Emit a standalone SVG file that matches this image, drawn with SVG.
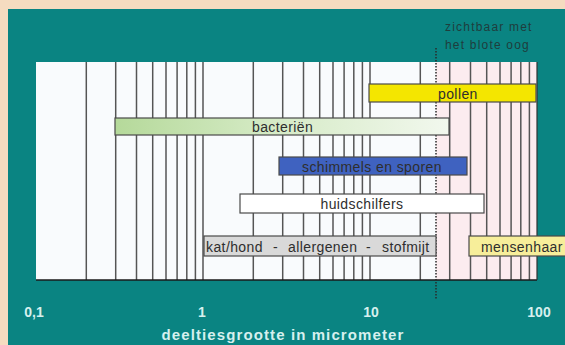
<svg xmlns="http://www.w3.org/2000/svg" width="565" height="345" viewBox="0 0 565 345">
<defs>
<linearGradient id="gBac" x1="0" y1="0" x2="1" y2="0">
<stop offset="0" stop-color="#b5d99a"/>
<stop offset="0.45" stop-color="#d4eac4"/>
<stop offset="1" stop-color="#f2f8ee"/>
</linearGradient>
<style>
.grid line{stroke:#555;stroke-width:1.5}
.bar{stroke:#4a4a4a;stroke-width:1.2}
.bt{font-family:"Liberation Sans",Arial,sans-serif;font-size:14px;letter-spacing:0.4px;fill:#2e2e2e}
.ax{font-family:"Liberation Sans",Arial,sans-serif;font-size:14px;font-weight:bold;fill:#d6f0ee}
.note{font-family:"Liberation Sans",Arial,sans-serif;font-size:12px;letter-spacing:1.2px;fill:#1f3d3d}
</style>
</defs>
<rect width="565" height="345" fill="#f5dcc0"/>
<rect x="8" y="9" width="557" height="336" fill="#0a8482"/>
<g id="chart">
<rect x="36" y="62" width="501" height="218" fill="#f9fbfd"/>
<rect x="436" y="62" width="101" height="218" fill="#fcecef"/>
<g class="grid">
<line x1="86.3" y1="62" x2="86.3" y2="280"/>
<line x1="115.7" y1="62" x2="115.7" y2="280"/>
<line x1="136.5" y1="62" x2="136.5" y2="280"/>
<line x1="152.7" y1="62" x2="152.7" y2="280"/>
<line x1="166" y1="62" x2="166" y2="280"/>
<line x1="177.1" y1="62" x2="177.1" y2="280"/>
<line x1="186.8" y1="62" x2="186.8" y2="280"/>
<line x1="195.4" y1="62" x2="195.4" y2="280"/>
<line x1="203" y1="62" x2="203" y2="280"/>
<line x1="253.3" y1="62" x2="253.3" y2="280"/>
<line x1="282.7" y1="62" x2="282.7" y2="280"/>
<line x1="303.5" y1="62" x2="303.5" y2="280"/>
<line x1="319.7" y1="62" x2="319.7" y2="280"/>
<line x1="333" y1="62" x2="333" y2="280"/>
<line x1="344.1" y1="62" x2="344.1" y2="280"/>
<line x1="353.8" y1="62" x2="353.8" y2="280"/>
<line x1="362.4" y1="62" x2="362.4" y2="280"/>
<line x1="370" y1="62" x2="370" y2="280"/>
<line x1="420.3" y1="62" x2="420.3" y2="280"/>
<line x1="449.7" y1="62" x2="449.7" y2="280"/>
<line x1="470.5" y1="62" x2="470.5" y2="280"/>
<line x1="486.7" y1="62" x2="486.7" y2="280"/>
<line x1="500" y1="62" x2="500" y2="280"/>
<line x1="511.1" y1="62" x2="511.1" y2="280"/>
<line x1="520.8" y1="62" x2="520.8" y2="280"/>
<line x1="529.4" y1="62" x2="529.4" y2="280"/>
</g>
<line x1="36" y1="280" x2="537" y2="280" stroke="#1a1a1a" stroke-width="1.6"/>
<line x1="537" y1="62" x2="537" y2="280" stroke="#333" stroke-width="1.2"/>
</g>
<g id="connectors">
<line x1="436" y1="48" x2="436" y2="300" stroke="#2a2a2a" stroke-width="1.5" stroke-dasharray="1.5,1.5"/>
</g>
<g id="pollen">
<rect class="bar" x="369" y="84" width="167" height="18" fill="#f4e600"/>
<text class="bt" x="438" y="99">pollen</text>
</g>
<g id="bacterien">
<rect class="bar" x="115" y="118" width="334" height="17" fill="url(#gBac)"/>
<text class="bt" x="252" y="132">bacteriën</text>
</g>
<g id="schimmels">
<rect class="bar" x="279" y="157" width="188" height="18" fill="#3f62c0"/>
<text class="bt" x="302" y="172" fill="#1a2a55">schimmels en sporen</text>
</g>
<g id="huidschilfers">
<rect class="bar" x="240" y="194" width="244" height="19" fill="#ffffff"/>
<text class="bt" x="362" y="209" text-anchor="middle">huidschilfers</text>
</g>
<g id="kathond">
<rect class="bar" x="204" y="236" width="232" height="20" fill="#d9d9d9"/>
<text class="bt" y="252"><tspan x="206">kat/hond</tspan><tspan x="273">-</tspan><tspan x="288">allergenen</tspan><tspan x="366">-</tspan><tspan x="382">stofmijt</tspan></text>
</g>
<g id="mensenhaar">
<rect class="bar" x="469" y="236" width="100" height="20" fill="#f7ee9a"/>
<text class="bt" x="481" y="252">mensenhaar</text>
</g>
<g id="labels">
<text class="note" x="445" y="31">zichtbaar met</text>
<text class="note" x="445" y="49">het blote oog</text>
<text class="ax" x="34" y="317" text-anchor="middle">0,1</text>
<text class="ax" x="202" y="317" text-anchor="middle">1</text>
<text class="ax" x="371" y="317" text-anchor="middle">10</text>
<text class="ax" x="539" y="317" text-anchor="middle">100</text>
<text class="ax" x="283" y="340" text-anchor="middle" style="font-size:15px;letter-spacing:1.1px">deeltiesgrootte in micrometer</text>
</g>
</svg>
